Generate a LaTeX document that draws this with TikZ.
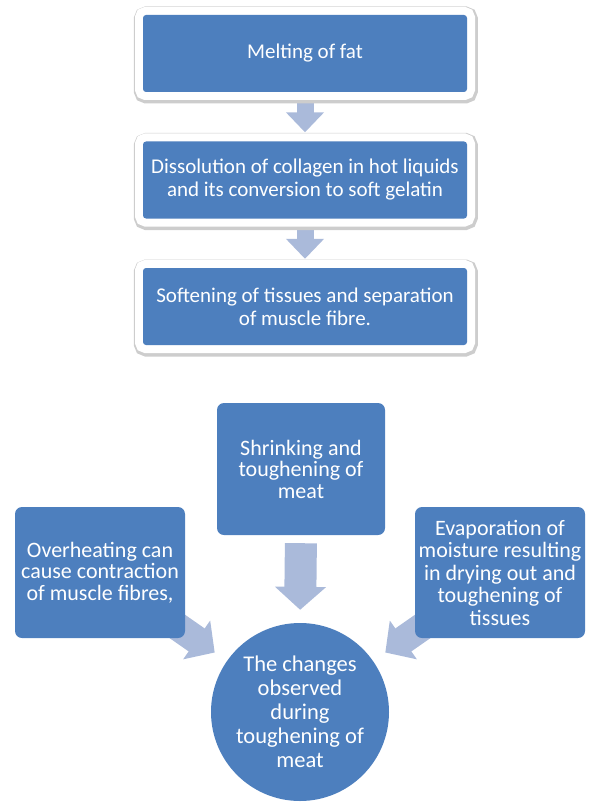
\documentclass[tikz,border=0pt]{standalone}
\usepackage{fontspec}
\setmainfont{Carlito}
\usetikzlibrary{arrows.meta,backgrounds}
\definecolor{boxblue}{RGB}{77,127,190}
\definecolor{arrowblue}{RGB}{170,186,218}
\definecolor{shadowgray}{RGB}{205,205,205}
\begin{document}
\begin{tikzpicture}[x=1pt,y=-1pt,
  topbox/.style={fill=boxblue, rounded corners=3pt, minimum width=324pt, minimum height=77pt,
    inner sep=0pt, align=center, text=white, font=\fontsize{21}{23}\selectfont,
    preaction={draw=shadowgray, line width=20pt, transform canvas={xshift=0.8pt,yshift=-1.5pt}},
    preaction={draw=white, line width=16pt}},
  sidebox/.style={fill=boxblue, rounded corners=7pt, minimum width=170pt, minimum height=131pt,
    inner sep=0pt, align=center, text=white, font=\fontsize{22}{21.5}\selectfont},
  circnode/.style={circle, fill=boxblue, minimum size=178pt, inner sep=0pt, align=center,
    text=white, font=\fontsize{22.5}{24}\selectfont},
  smallarrow/.style={draw=arrowblue, line width=17pt, -{Triangle[length=20pt,width=37pt]}},
  bigarrow/.style={draw=arrowblue, line width=32pt, -{Triangle[length=23pt,width=50pt]}},
  diagarrow/.style={draw=arrowblue, line width=28pt, -{Triangle[length=22pt,width=46pt]}}
]
\useasboundingbox (0,0) rectangle (592,805);
\node[topbox] (b1) at (305,53.5) {Melting of fat};
\node[topbox] (b2) at (305,180) {Dissolution of collagen in hot liquids\\and its conversion to soft gelatin};
\node[topbox] (b3) at (305,306.5) {Softening of tissues and separation\\of muscle fibre.};
\node[sidebox, minimum width=168pt, minimum height=132pt] (cb) at (301,469) {Shrinking and\\toughening of\\meat};
\node[sidebox] (lb) at (100,572.5) {Overheating can\\cause contraction\\of muscle fibres,};
\node[sidebox, font=\fontsize{22}{22.5}\selectfont] (rb) at (500,572.5) {Evaporation of\\moisture resulting\\in drying out and\\toughening of\\tissues};
\node[circnode] (c) at (300,712) {The changes\\observed\\during\\toughening of\\meat};
\begin{scope}[on background layer]
\draw[smallarrow] (b1.south) -- ([yshift=9pt]b2.north);
\draw[smallarrow] (b2.south) -- ([yshift=9pt]b3.north);
\draw[bigarrow, shorten <=8pt, shorten >=13pt] (cb.south) -- (c.north);
\draw[diagarrow, shorten >=104pt] (lb.center) -- (c.center);
\draw[diagarrow, shorten >=104pt] (rb.center) -- (c.center);
\end{scope}
\end{tikzpicture}
\end{document}
